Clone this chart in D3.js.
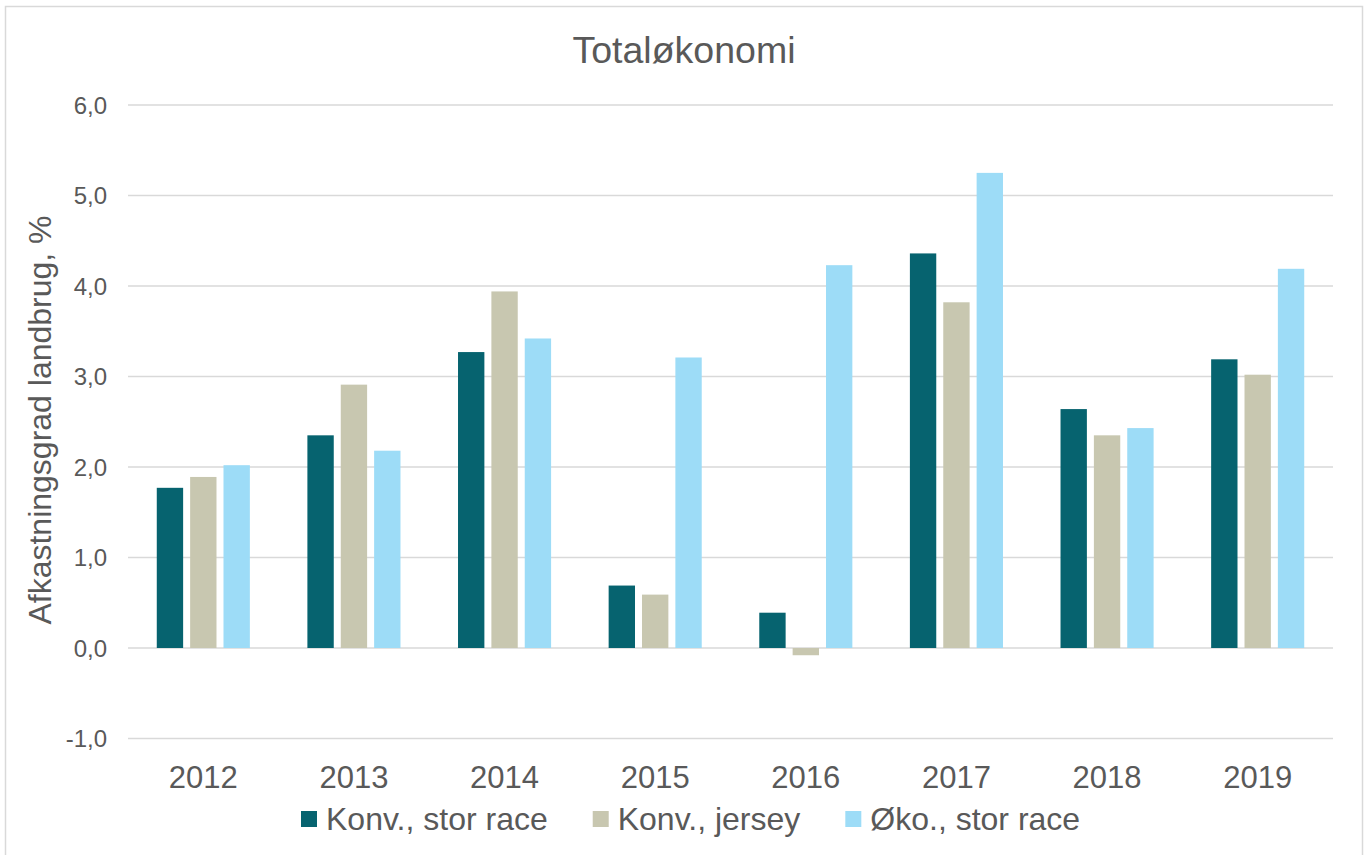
<!DOCTYPE html>
<html>
<head>
<meta charset="utf-8">
<script src="https://cdn.jsdelivr.net/npm/d3@7"></script>
<style>
	body { margin: 0; background: #fff; }
	svg text { font-family: "Liberation Sans", Arial, sans-serif; fill: #595959; }
</style>
</head>
<body>
<div id="chart"></div>
<script>
	// data
	const years = ["2012", "2013", "2014", "2015", "2016", "2017", "2018", "2019"];
	const seriesNames = ["Konv., stor race", "Konv., jersey", "Øko., stor race"];
	const konvStor = [1.77, 2.35, 3.27, 0.69, 0.39, 4.36, 2.64, 3.19];
	const konvJersey = [1.89, 2.91, 3.94, 0.59, -0.08, 3.82, 2.35, 3.02];
	const okoStor = [2.02, 2.18, 3.42, 3.21, 4.23, 5.25, 2.43, 4.19];
	const yTicks = [-1, 0, 1, 2, 3, 4, 5, 6];
	const colors = ["#06636f", "#c8c7b0", "#9ddcf7"];

	const seriesValues = [konvStor, konvJersey, okoStor];

	const width = 1368;
	const height = 855;
	const margin = { top: 105, right: 35, bottom: 116, left: 128 };

	const svg = d3
		.select("#chart")
		.append("svg")
		.attr("width", width)
		.attr("height", height);

	// outer chart frame
	svg.append("rect")
		.attr("x", 5.5)
		.attr("y", 6.5)
		.attr("width", 1357)
		.attr("height", 860)
		.attr("fill", "none")
		.attr("stroke", "#d9d9d9")
		.attr("stroke-width", 1.5);

	const x0 = d3
		.scaleBand()
		.domain(years)
		.range([margin.left, width - margin.right]);

	const pad = x0.bandwidth() * 0.191;
	const x1 = d3
		.scaleBand()
		.domain(seriesNames)
		.range([pad, x0.bandwidth() - pad])
		.paddingInner(0.21);

	const y = d3
		.scaleLinear()
		.domain([-1, 6])
		.range([height - margin.bottom - 0.5, margin.top]);

	// gridlines
	svg.append("g")
		.selectAll("line")
		.data(yTicks)
		.enter()
		.append("line")
		.attr("x1", margin.left)
		.attr("x2", width - margin.right)
		.attr("y1", (d) => y(d))
		.attr("y2", (d) => y(d))
		.attr("stroke", "#d9d9d9")
		.attr("stroke-width", 1.5);

	// y axis labels (hyphen minus, comma decimal)
	const yAxis = d3
		.axisLeft(y)
		.tickValues(yTicks)
		.tickSize(0)
		.tickPadding(21)
		.tickFormat((d) => d.toFixed(1).replace(".", ","));

	const gy = svg.append("g")
		.attr("transform", `translate(${margin.left},0)`)
		.call(yAxis);
	gy.select(".domain").remove();
	gy.selectAll("text")
		.style("font-size", "24px")
		.attr("dy", "0.35em");

	// bars
	const rows = [];
	years.forEach((yr, i) => {
		seriesNames.forEach((s, j) => {
			rows.push({ year: yr, series: s, value: seriesValues[j][i], color: colors[j] });
		});
	});

	svg.append("g")
		.selectAll("rect")
		.data(rows)
		.enter()
		.append("rect")
		.attr("x", (d) => x0(d.year) + x1(d.series))
		.attr("width", x1.bandwidth())
		.attr("y", (d) => y(Math.max(0, d.value)))
		.attr("height", (d) => Math.abs(y(d.value) - y(0)))
		.attr("fill", (d) => d.color);

	// x axis labels
	const xAxis = d3.axisBottom(x0).tickSize(0).tickPadding(0);
	const gx = svg.append("g")
		.attr("transform", `translate(0,${y(-1)})`)
		.call(xAxis);
	gx.select(".domain").remove();
	gx.selectAll("text")
		.style("font-size", "31px")
		.attr("y", 49)
		.attr("dy", 0);

	// title
	svg.append("text")
		.attr("x", 684)
		.attr("y", 63)
		.attr("text-anchor", "middle")
		.style("font-size", "37.5px")
		.text("Totaløkonomi");

	// y axis title
	svg.append("text")
		.attr("transform", "translate(51,420) rotate(-90)")
		.attr("text-anchor", "middle")
		.style("font-size", "32px")
		.text("Afkastningsgrad landbrug, %");

	// legend
	const legend = svg.append("g");
	const items = legend
		.selectAll("g")
		.data(seriesNames)
		.enter()
		.append("g");

	items.append("rect")
		.attr("width", 16)
		.attr("height", 16)
		.attr("y", -19)
		.attr("fill", (d, i) => colors[i]);

	items.append("text")
		.attr("x", 25)
		.style("font-size", "32px")
		.text((d) => d);

	let lx = 0;
	const offsets = [];
	items.each(function () {
		offsets.push(lx);
		const w = 25 + d3.select(this).select("text").node().getComputedTextLength();
		lx += w + 45;
	});
	items.attr("transform", (d, i) => `translate(${301 + offsets[i]},830)`);
</script>
</body>
</html>
